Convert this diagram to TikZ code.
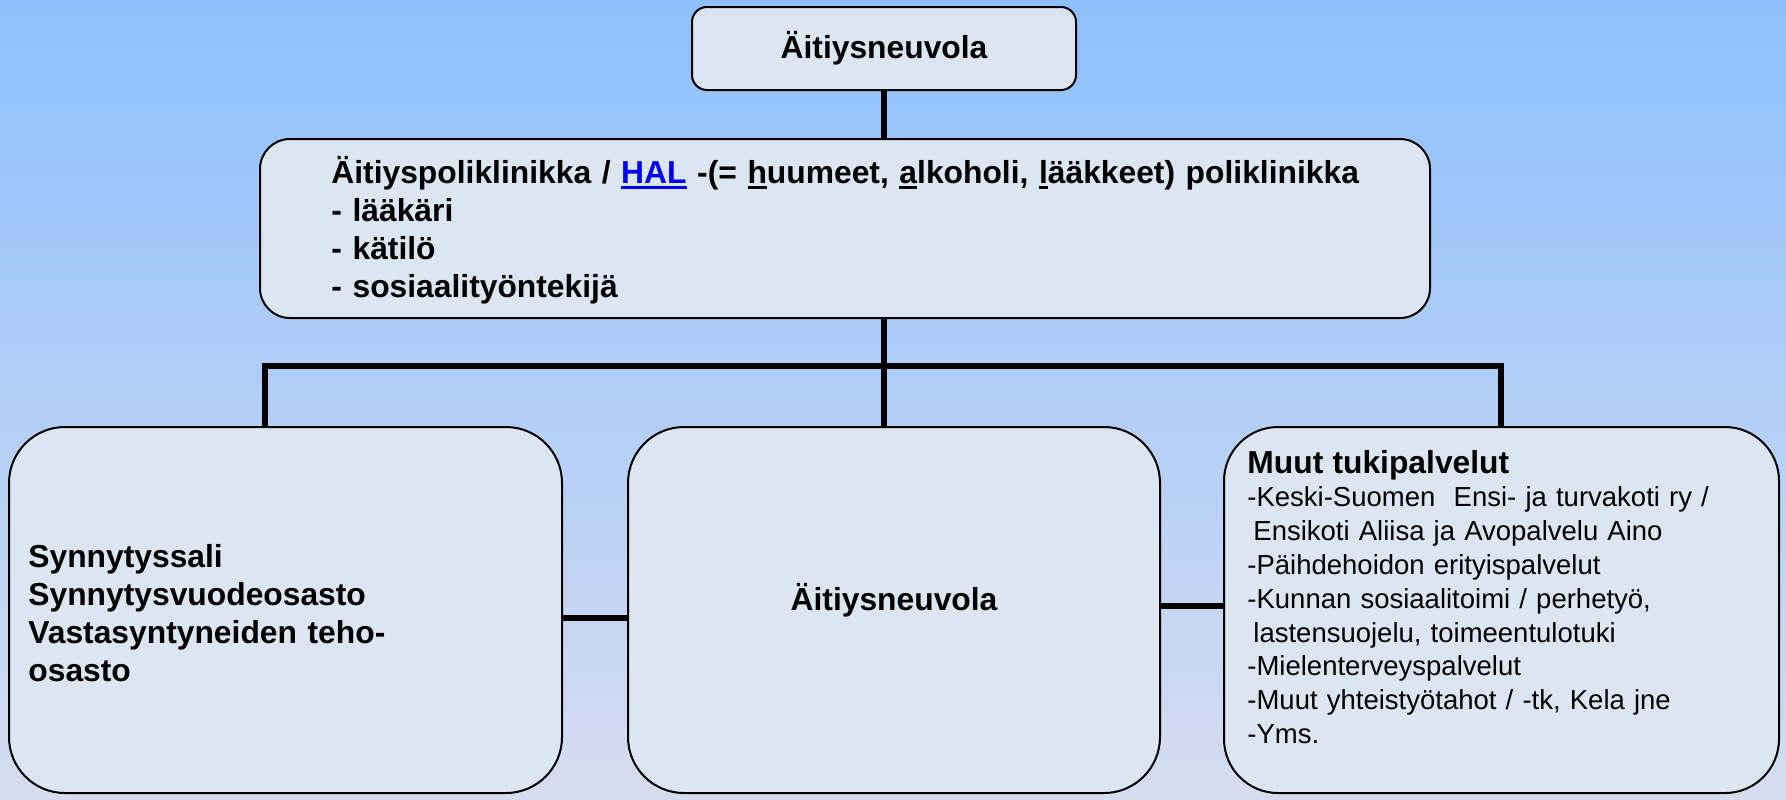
\documentclass[tikz,border=0pt]{standalone}
\usepackage{fontspec}
\setmainfont{Liberation Sans}
\definecolor{bgtop}{RGB}{141,192,252}
\definecolor{bgbot}{RGB}{214,220,240}
\definecolor{boxfill}{RGB}{220,230,242}
\definecolor{halblue}{RGB}{0,0,240}
\newsavebox\myulbox
\newcommand\myul[1]{\leavevmode\sbox\myulbox{#1}\rlap{\rule[-3pt]{\wd\myulbox}{1.4pt}}\usebox\myulbox}
\tikzset{
  box/.style={draw=black, line width=1pt, fill=boxfill, inner sep=0pt},
  conn/.style={line width=3pt, draw=black},
  boldtext/.style={font=\bfseries\fontsize{15.9}{19.1}\selectfont, inner sep=0pt},
}
\begin{document}
\begin{tikzpicture}[x=0.5pt, y=-0.5pt]
\path[use as bounding box, top color=bgtop, bottom color=bgbot] (0,0) rectangle (1786,799);

% boxes
\node[box, rounded corners=7.5pt, minimum width=192pt, minimum height=41.5pt,
      boldtext] (top) at (884,48.5) {Äitiysneuvola};
\node[box, rounded corners=15pt, minimum width=585pt, minimum height=89.5pt] (mid) at (845,228.5) {};
\node[box, rounded corners=28pt, minimum width=276.5pt, minimum height=183pt] (left) at (285.5,610) {};
\node[box, rounded corners=28pt, minimum width=266pt, minimum height=183pt] (cen) at (894,610) {};
\node[box, rounded corners=27pt, minimum width=277.5pt, minimum height=183pt] (right) at (1501.5,610) {};

% texts
\node[boldtext, anchor=base west, text width=540pt, align=left] (midtext) at (331,183)
 {Äitiyspoliklinikka / \textcolor{halblue}{\myul{HAL}} -(= \myul{h}uumeet, \myul{a}lkoholi, \myul{l}ääkkeet) poliklinikka\\
  - lääkäri\\
  - kätilö\\
  - sosiaalityöntekijä};
\node[boldtext, anchor=base, font=\bfseries\fontsize{15.9}{19.1}\selectfont] (centext) at (cen.center |- 0,610) {Äitiysneuvola};
\node[boldtext, anchor=base west, text width=255pt, align=left] (lefttext) at (28,567)
 {Synnytyssali\\
  Synnytysvuodeosasto\\
  Vastasyntyneiden teho-\\
  osasto};
\node[anchor=base west, inner sep=0pt, text width=262pt, align=left,
      font=\fontsize{13.75}{16.9}\selectfont] (righttext) at (1247,473)
 {{\bfseries\fontsize{15.9}{16.9}\selectfont Muut tukipalvelut}\\
  -Keski-Suomen\ \ Ensi- ja turvakoti ry /\\
  \hspace*{3pt}Ensikoti Aliisa ja Avopalvelu Aino\\
  -Päihdehoidon erityispalvelut\\
  -Kunnan sosiaalitoimi / perhetyö,\\
  \hspace*{3pt}lastensuojelu, toimeentulotuki\\
  -Mielenterveyspalvelut\\
  -Muut yhteistyötahot / -tk, Kela jne\\
  -Yms.};

% connectors
\coordinate (bar) at (0,366);
\coordinate (lx) at (265,0);
\coordinate (rx) at (1501,0);
\coordinate (h1) at (0,618);
\coordinate (h2) at (0,606);
\draw[conn] (top.south) -- (top.south |- mid.north);
\draw[conn] (top.south |- mid.south) -- (top.south |- cen.north);
\draw[conn, line join=miter] (left.north -| lx) -- (lx |- bar) -- (rx |- bar) -- (right.north -| rx);
\draw[conn] (left.east |- h1) -- (cen.west |- h1);
\draw[conn] (cen.east |- h2) -- (right.west |- h2);
\end{tikzpicture}
\end{document}
